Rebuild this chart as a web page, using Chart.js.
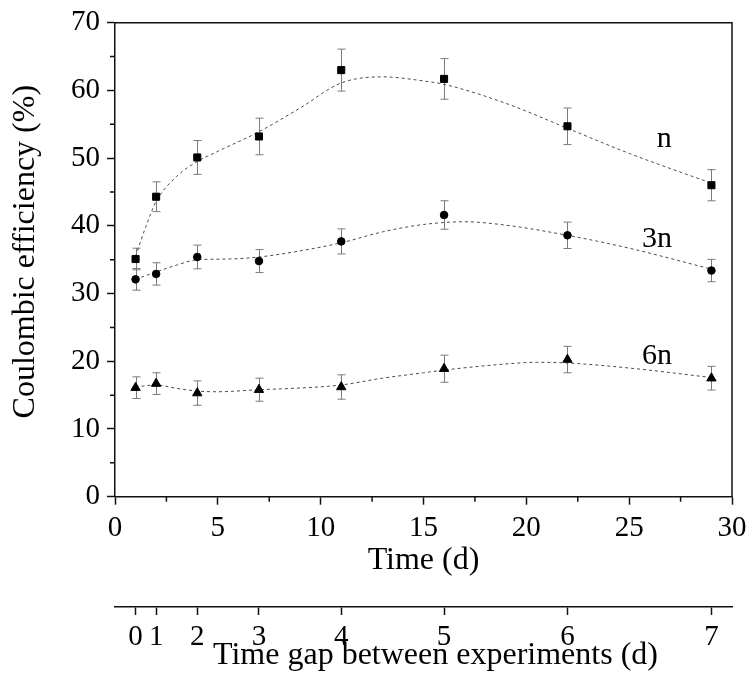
<!DOCTYPE html>
<html><head><meta charset="utf-8">
<script src="https://cdn.jsdelivr.net/npm/chart.js@4.4.0/dist/chart.umd.min.js"></script>
<style>html,body{margin:0;padding:0;background:#fff}#wrap{width:749px;height:675px}</style>
</head><body><div id="wrap"><canvas id="c" width="749" height="675"></canvas></div>
<script>
// ---- data ----
const times = [1, 2, 4, 7, 11, 16, 22, 29];
const effN  = [35.1, 44.3, 50.1, 53.2, 63.0, 61.7, 54.7, 46.0];
const errN  = [1.6, 2.2, 2.5, 2.7, 3.1, 3.0, 2.7, 2.3];
const eff3N = [32.1, 32.9, 35.4, 34.8, 37.7, 41.6, 38.6, 33.4];
const err3N = [1.6, 1.65, 1.75, 1.7, 1.85, 2.1, 1.95, 1.65];
const eff6N = [16.1, 16.7, 15.3, 15.8, 16.2, 18.9, 20.25, 17.5];
const err6N = [1.6, 1.6, 1.8, 1.7, 1.8, 2.0, 1.95, 1.75];

const fitNX  = [1, 1.5, 2, 3, 4, 5, 7, 9, 11, 13, 15, 16, 19, 22, 25, 29];
const fitNY  = [35.5, 39.9, 43.6, 47.3, 49.5, 51.0, 53.9, 57.4, 61.1, 62.0, 61.4, 60.9, 58.1, 54.4, 50.7, 46.3];
const fit3NX = [1, 2, 3, 4, 5.5, 7, 9, 11, 13, 15, 17, 19, 22, 25, 29];
const fit3NY = [32.1, 33.2, 34.2, 35.0, 35.1, 35.4, 36.3, 37.5, 39.1, 40.2, 40.6, 40.1, 38.6, 36.7, 33.6];
const fit6NX = [1, 2, 3, 4, 5, 7, 9, 11, 13, 15, 16, 19, 20.5, 22, 25, 29];
const fit6NY = [16.2, 16.5, 16.0, 15.6, 15.5, 15.8, 16.05, 16.5, 17.5, 18.3, 18.7, 19.6, 19.85, 19.75, 19.0, 17.6];

const seriesNames = ['n', '3n', '6n'];
const seriesLabelAt = [[26.7, 51.6], [26.35, 36.85], [26.35, 19.6]];

const xTicks = [0, 5, 10, 15, 20, 25, 30];
const xMinor = [2.5, 7.5, 12.5, 17.5, 22.5, 27.5];
const yTicks = [0, 10, 20, 30, 40, 50, 60, 70];
const yMinor = [5, 15, 25, 35, 45, 55, 65];
const gapPositions = [1, 2, 4, 7, 11, 16, 22, 29];
const gapLabels = ['0', '1', '2', '3', '4', '5', '6', '7'];

// ---- helpers ----
const pts = (xs, ys) => xs.map((x, i) => ({x: x, y: ys[i]}));
const AX = '#111';
Chart.defaults.font.family = "'Liberation Serif', 'Times New Roman', serif";
Chart.defaults.font.size = 29;
Chart.defaults.color = '#000';

function fitDs(xs, ys) {
  return {type: 'line', data: pts(xs, ys), borderColor: '#4a4a4a', borderWidth: 1,
    borderDash: [3, 3], pointRadius: 0, cubicInterpolationMode: 'monotone', fill: false, order: 2};
}
function markDs(ys, errs, style, r) {
  return {type: 'scatter', data: pts(times, ys), errors: errs, pointStyle: style, pointRadius: r,
    backgroundColor: '#000', borderColor: '#000', borderWidth: 1, order: 0};
}

const extras = {
  id: 'extras',
  beforeDatasetsDraw(chart) {
    const ctx = chart.ctx, xs = chart.scales.x, ys = chart.scales.y;
    ctx.save();
    ctx.strokeStyle = '#7a7a7a'; ctx.lineWidth = 1;
    chart.data.datasets.forEach(ds => {
      if (!ds.errors) return;
      ds.data.forEach((p, i) => {
        const px = Math.round(xs.getPixelForValue(p.x)) + 0.5;
        const t = ys.getPixelForValue(p.y + ds.errors[i]);
        const b = ys.getPixelForValue(p.y - ds.errors[i]);
        ctx.beginPath();
        ctx.moveTo(px, t); ctx.lineTo(px, b);
        ctx.moveTo(px - 4, t); ctx.lineTo(px + 4, t);
        ctx.moveTo(px - 4, b); ctx.lineTo(px + 4, b);
        ctx.stroke();
      });
    });
    ctx.restore();
  },
  afterDraw(chart) {
    const ctx = chart.ctx, a = chart.chartArea, xs = chart.scales.x, ys = chart.scales.y;
    ctx.save();
    ctx.strokeStyle = AX; ctx.lineWidth = 1.5;
    ctx.beginPath();
    ctx.moveTo(a.left, a.top); ctx.lineTo(a.right, a.top); ctx.lineTo(a.right, a.bottom);
    ctx.stroke();
    ctx.beginPath();
    xMinor.forEach(v => { const p = xs.getPixelForValue(v); ctx.moveTo(p, a.bottom); ctx.lineTo(p, a.bottom + 5); });
    yMinor.forEach(v => { const p = ys.getPixelForValue(v); ctx.moveTo(a.left - 5, p); ctx.lineTo(a.left, p); });
    ctx.stroke();
    ctx.fillStyle = '#000';
    ctx.font = "30px 'Liberation Serif', serif";
    ctx.textAlign = 'center'; ctx.textBaseline = 'alphabetic';
    seriesNames.forEach((s, i) => {
      ctx.fillText(s, xs.getPixelForValue(seriesLabelAt[i][0]), ys.getPixelForValue(seriesLabelAt[i][1]));
    });
    ctx.restore();
  }
};

const gridOpts = {display: true, drawOnChartArea: false, drawTicks: true, tickLength: 8, tickColor: AX, tickWidth: 1.5};
const borderOpts = {display: true, color: AX, width: 1.5};

new Chart(document.getElementById('c'), {
  type: 'scatter',
  data: {datasets: [
    fitDs(fitNX, fitNY), fitDs(fit3NX, fit3NY), fitDs(fit6NX, fit6NY),
    markDs(effN, errN, 'rect', 5), markDs(eff3N, err3N, 'circle', 3.8), markDs(eff6N, err6N, 'triangle', 5.4)
  ]},
  options: {
    responsive: false, animation: false, devicePixelRatio: 1,
    layout: {padding: {top: 22.7, right: 17, left: 0, bottom: 0}},
    plugins: {legend: {display: false}, tooltip: {enabled: false}},
    scales: {
      x: {
        type: 'linear', position: 'bottom', min: 0, max: 30, weight: 0,
        afterBuildTicks: ax => { ax.ticks = xTicks.map(v => ({value: v})); },
        ticks: {padding: 6, autoSkip: false, maxRotation: 0, minRotation: 0},
        grid: gridOpts, border: borderOpts,
        title: {display: true, text: 'Time (d)', font: {size: 32}, padding: {top: 0, bottom: 27}},
        afterFit: s => { s.height = 110.3; s.paddingLeft = 0; s.paddingRight = 0; }
      },
      x2: {
        type: 'linear', position: 'bottom', min: 0, max: 30, weight: 1,
        afterBuildTicks: ax => { ax.ticks = gapPositions.map(v => ({value: v})); },
        ticks: {padding: 5, autoSkip: false, maxRotation: 0, minRotation: 0,
          callback: (v, i) => gapLabels[i]},
        grid: gridOpts, border: borderOpts,
        title: {display: true, text: '   Time gap between experiments (d)', font: {size: 32}, padding: {top: 0, bottom: 0}},
        afterFit: s => { s.height = 68; s.paddingLeft = 0; s.paddingRight = 0; }
      },
      y: {
        min: 0, max: 70,
        afterBuildTicks: ax => { ax.ticks = yTicks.map(v => ({value: v})); },
        ticks: {padding: 7},
        grid: gridOpts, border: borderOpts,
        title: {display: true, text: '  Coulombic efficiency (%)', font: {size: 32}, padding: {top: 6, bottom: 0}},
        afterFit: s => { s.width = 115; s.paddingTop = 0; s.paddingBottom = 0; }
      }
    }
  },
  plugins: [extras]
});
</script>
</body></html>
